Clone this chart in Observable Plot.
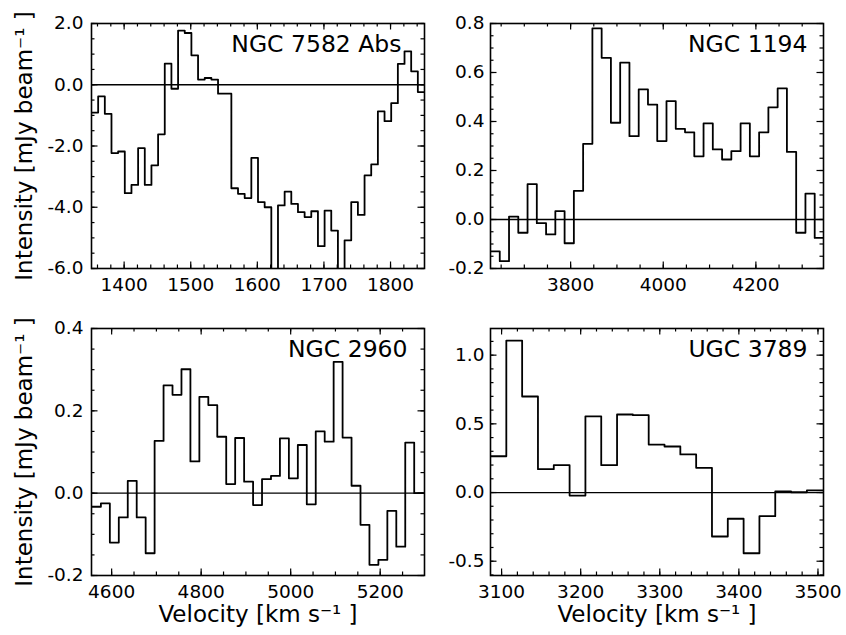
<!DOCTYPE html>
<html>
<head>
<meta charset="utf-8">
<script src="https://cdn.jsdelivr.net/npm/d3@7"></script>
<script src="https://cdn.jsdelivr.net/npm/@observablehq/plot@0.6"></script>
<style>
  html, body { margin: 0; padding: 0; background: #fff; }
  #figure { position: relative; width: 846px; height: 635px; overflow: hidden; }
  #figure svg { position: absolute; left: 0; top: 0; }
</style>
</head>
<body>
<div id="figure"></div>
<script>
// Channel centres (km/s) and flux density (mJy/beam) for each spectrum.

// NGC 7582, absorption, 10 km/s channels
const ngc7582Velocity = [
  1356, 1366, 1376, 1386, 1396, 1406, 1416, 1426, 1436, 1446,
  1456, 1466, 1476, 1486, 1496, 1506, 1516, 1526, 1536, 1546,
  1556, 1566, 1576, 1586, 1596, 1606, 1616, 1626, 1636, 1646,
  1656, 1666, 1676, 1686, 1696, 1706, 1716, 1726, 1736, 1746,
  1756, 1766, 1776, 1786, 1796, 1806, 1816, 1826, 1836, 1846
];
const ngc7582Intensity = [
  -0.91, -0.38, -0.95, -2.23, -2.18, -3.54, -3.27, -2.07, -3.27, -2.63,
  -1.62, 0.69, -0.13, 1.77, 1.69, 0.96, 0.17, 0.22, 0.17, -0.29,
  -0.29, -3.38, -3.56, -3.70, -2.39, -3.83, -4.00, -6.30, -3.94, -3.49,
  -3.89, -4.16, -4.32, -4.13, -5.27, -4.11, -4.76, -6.30, -5.08, -3.83,
  -4.25, -2.96, -2.60, -0.87, -1.19, -0.60, 0.68, 1.09, 0.44, -0.24
];

// NGC 1194, 20 km/s channels
const ngc1194Velocity = [
  3637, 3657, 3677, 3697, 3717, 3737, 3757, 3777, 3797, 3817,
  3837, 3857, 3877, 3897, 3917, 3937, 3957, 3977, 3997, 4017,
  4037, 4057, 4077, 4097, 4117, 4137, 4157, 4177, 4197, 4217,
  4237, 4257, 4277, 4297, 4317, 4337
];
const ngc1194Intensity = [
  -0.13, -0.17, 0.012, -0.054, 0.144, -0.015, -0.061, 0.034, -0.097, 0.117,
  0.309, 0.780, 0.660, 0.395, 0.640, 0.340, 0.531, 0.469, 0.320, 0.483,
  0.370, 0.356, 0.258, 0.392, 0.286, 0.245, 0.279, 0.392, 0.258, 0.356,
  0.458, 0.535, 0.276, -0.054, 0.106, -0.075
];

// NGC 2960, 20 km/s channels
const ngc2960Velocity = [
  4566, 4586, 4606, 4626, 4646, 4666, 4686, 4706, 4726, 4746,
  4766, 4786, 4806, 4826, 4846, 4866, 4886, 4906, 4926, 4946,
  4966, 4986, 5006, 5026, 5046, 5066, 5086, 5106, 5126, 5146,
  5166, 5186, 5206, 5226, 5246, 5266, 5286
];
const ngc2960Intensity = [
  -0.033, -0.025, -0.120, -0.059, 0.030, -0.059, -0.146, 0.127, 0.262, 0.239,
  0.301, 0.077, 0.234, 0.214, 0.137, 0.022, 0.134, 0.028, -0.029, 0.034,
  0.042, 0.133, 0.036, 0.117, -0.027, 0.150, 0.125, 0.319, 0.135, 0.018,
  -0.077, -0.174, -0.162, -0.043, -0.130, 0.123, 0.000
];

// UGC 3789, 20 km/s channels
const ugc3789Velocity = [
  3096, 3116, 3136, 3156, 3176, 3196, 3216, 3236, 3256, 3276,
  3296, 3316, 3336, 3356, 3376, 3396, 3416, 3436, 3456, 3476, 3496
];
const ugc3789Intensity = [
  0.264, 1.106, 0.699, 0.170, 0.199, -0.022, 0.555, 0.199, 0.568, 0.563,
  0.349, 0.335, 0.277, 0.180, -0.320, -0.191, -0.442, -0.172, 0.009, 0.002, 0.015
];

// Tick values
const ngc7582XTicks = [1400, 1500, 1600, 1700, 1800];
const ngc7582YTicks = [-6, -4, -2, 0, 2];
const ngc1194XTicks = [3800, 4000, 4200];
const ngc1194YTicks = [-0.2, 0, 0.2, 0.4, 0.6, 0.8];
const ngc2960XTicks = [4600, 4800, 5000, 5200];
const ngc2960YTicks = [-0.2, 0, 0.2, 0.4];
const ugc3789XTicks = [3100, 3200, 3300, 3400, 3500];
const ugc3789YTicks = [-0.5, 0, 0.5, 1.0];

const yTitle = "Intensity [mJy beam\u207B\u00B9 ]";
const xTitle = "Velocity [km s\u207B\u00B9 ]";

const W = 846, H = 635;

const panels = [
  {
    name: "NGC 7582 Abs", vel: ngc7582Velocity, val: ngc7582Intensity, channel: 10,
    xDomain: [1351, 1851], yDomain: [-6, 2],
    xMajor: ngc7582XTicks, xMinor: d3.range(1360, 1851, 20),
    yMajor: ngc7582YTicks, yMinor: d3.range(-6, 2.001, 0.5),
    box: {left: 91, right: 424, top: 23, bottom: 268},
    titleDx: -23, yPad: 8, yLabel: true, xLabel: false
  },
  {
    name: "NGC 1194", vel: ngc1194Velocity, val: ngc1194Intensity, channel: 20,
    xDomain: [3627, 4346], yDomain: [-0.2, 0.8],
    xMajor: ngc1194XTicks, xMinor: d3.range(3650, 4346, 50),
    yMajor: ngc1194YTicks, yMinor: d3.range(-0.2, 0.8001, 0.05),
    box: {left: 490, right: 823, top: 23, bottom: 268},
    titleDx: -16, yPad: 6, yLabel: false, xLabel: false
  },
  {
    name: "NGC 2960", vel: ngc2960Velocity, val: ngc2960Intensity, channel: 20,
    xDomain: [4555, 5299], yDomain: [-0.2, 0.4],
    xMajor: ngc2960XTicks, xMinor: d3.range(4600, 5299, 50),
    yMajor: ngc2960YTicks, yMinor: d3.range(-0.2, 0.4001, 0.05),
    box: {left: 91, right: 424, top: 328, bottom: 575},
    titleDx: -17, yPad: 8, yLabel: true, xLabel: true
  },
  {
    name: "UGC 3789", vel: ugc3789Velocity, val: ugc3789Intensity, channel: 20,
    xDomain: [3086, 3507], yDomain: [-0.604, 1.194],
    xMajor: ugc3789XTicks, xMinor: d3.range(3100, 3507, 20),
    yMajor: ugc3789YTicks, yMinor: d3.range(-0.6, 1.1901, 0.1),
    box: {left: 490, right: 823, top: 328, bottom: 575},
    titleDx: -16, yPad: 6, yLabel: false, xLabel: true
  }
];

// Turn channel centres into histogram-style steps spanning each channel.
function channelSteps(vel, val, channel) {
  const pts = vel.map((v, i) => ({v: v - channel / 2, y: val[i]}));
  pts.push({v: vel[vel.length - 1] + channel / 2, y: val[val.length - 1]});
  return pts;
}

const figure = document.getElementById("figure");

for (const p of panels) {
  const plotW = p.box.right - p.box.left;
  const plotH = p.box.bottom - p.box.top;
  const major = 6.5, minor = 3.5;
  const tickStyle = {stroke: "#000", strokeWidth: 1.2};

  const marks = [
    Plot.ruleY([0], {stroke: "#000", strokeWidth: 1.3}),
    Plot.line(channelSteps(p.vel, p.val, p.channel), {
      x: "v", y: "y", curve: "step-after", stroke: "#000", strokeWidth: 1.8, clip: true
    }),
    // inward ticks on all four sides
    Plot.ruleX(p.xMinor, {...tickStyle, insetTop: plotH - minor}),
    Plot.ruleX(p.xMinor, {...tickStyle, insetBottom: plotH - minor}),
    Plot.ruleX(p.xMajor, {...tickStyle, insetTop: plotH - major}),
    Plot.ruleX(p.xMajor, {...tickStyle, insetBottom: plotH - major}),
    Plot.ruleY(p.yMinor, {...tickStyle, insetRight: plotW - minor}),
    Plot.ruleY(p.yMinor, {...tickStyle, insetLeft: plotW - minor}),
    Plot.ruleY(p.yMajor, {...tickStyle, insetRight: plotW - major}),
    Plot.ruleY(p.yMajor, {...tickStyle, insetLeft: plotW - major}),
    Plot.axisX({ticks: p.xMajor, tickSize: 0, tickPadding: 9, tickFormat: d => String(d), label: null, fill: "#000"}),
    Plot.axisY({ticks: p.yMajor, tickSize: 0, tickPadding: p.yPad, tickFormat: d => d.toFixed(1), label: null, fill: "#000"}),
    Plot.frame({stroke: "#000", strokeWidth: 1.6}),
    Plot.text([p.name], {
      text: d => d, frameAnchor: "top-right", textAnchor: "end", lineAnchor: "top",
      dx: p.titleDx, dy: 12, fontSize: 23.5, fill: "#000"
    })
  ];
  if (p.yLabel) {
    marks.push(Plot.text([yTitle], {
      text: d => d, frameAnchor: "left", textAnchor: "middle", rotate: -90, dx: -67, fontSize: 23, fill: "#000"
    }));
  }
  if (p.xLabel) {
    marks.push(Plot.text([xTitle], {
      text: d => d, frameAnchor: "bottom", textAnchor: "middle", lineAnchor: "top", dy: 30, fontSize: 23, fill: "#000"
    }));
  }

  const chart = Plot.plot({
    width: W,
    height: H,
    marginLeft: p.box.left,
    marginRight: W - p.box.right,
    marginTop: p.box.top,
    marginBottom: H - p.box.bottom,
    x: {domain: p.xDomain},
    y: {domain: p.yDomain},
    style: {background: "transparent", fontFamily: "DejaVu Sans", fontSize: "18.5px", color: "#000", maxWidth: "none"},
    marks
  });
  figure.appendChild(chart);
}
</script>
</body>
</html>
